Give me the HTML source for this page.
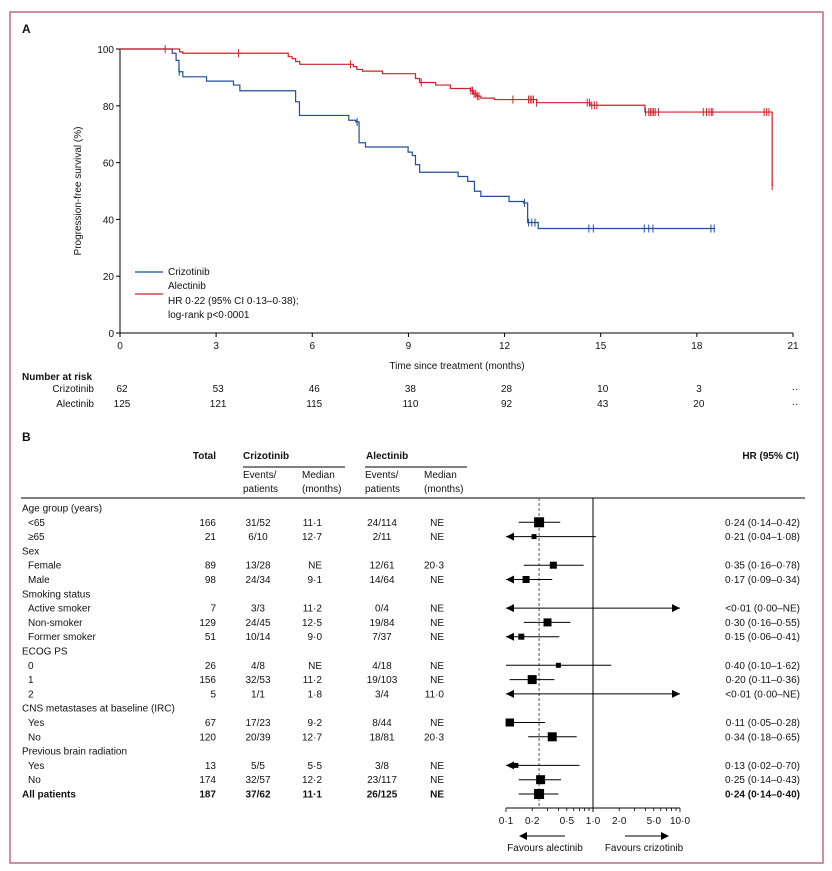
<!DOCTYPE html>
<html><head><meta charset="utf-8">
<style>
html,body{margin:0;padding:0;background:#fff;}
svg{display:block;font-family:"Liberation Sans Narrow","Liberation Sans",sans-serif;}
text{fill:#111;font-size:10px;}
.b{font-weight:bold;}
</style></head>
<body>
<svg id="fig" width="832" height="871" viewBox="0 0 832 871">
<rect x="10" y="12" width="813" height="851" fill="none" stroke="#c06a80" stroke-width="1.5"/>
<text x="22" y="33" class="b" style="font-size:12px">A</text>
<text x="22" y="441" class="b" style="font-size:12px">B</text>
<g id="km"></g>
<g id="tbl"></g>
<g id="forest"></g>
</svg>
<script>
// ---- KM data ----
const kmTicksX = [0,3,6,9,12,15,18,21];
const kmTicksY = [0,20,40,60,80,100];
const crizoTimes = [0,1.63,1.75,1.84,1.96,2.7,3.54,3.74,5.48,5.6,7.14,7.36,7.46,7.66,8.99,9.12,9.22,9.35,10.55,10.85,11.06,11.26,12.14,12.59,12.72,13.05,18.57];
const crizoSurv  = [100,98.5,96,92,90.2,88.7,87.3,85.3,81.4,76.6,74.9,74.3,67,65.5,63.7,62.5,59.3,56.6,55.1,53.4,49.9,48.1,46.3,45.8,38.9,36.8,36.8];
const crizoCens  = [1.85,7.4,12.62,12.75,12.85,12.95,14.63,14.77,16.36,16.5,16.63,18.44,18.54];
const alecTimes = [0,1.86,1.96,5.25,5.37,5.48,5.61,7.28,7.39,7.57,8.19,9.22,9.35,9.85,10.31,10.93,11.02,11.13,11.26,11.68,13.0,14.67,16.38,20.35,20.35];
const alecSurv  = [100,99,98.5,97.3,96.6,95.6,94.6,93.8,92.8,92.2,91.3,89.6,88.2,87.3,86.1,85.3,84.2,83.4,82.7,82.2,81.1,80.2,77.8,51.7,51.7];
const alecCens  = [1.41,3.7,7.19,9.4,10.95,11.0,11.05,11.1,11.15,11.2,12.26,12.75,12.8,12.85,12.9,13.0,14.58,14.65,14.72,14.8,14.88,16.4,16.5,16.55,16.6,16.65,16.7,16.8,18.2,18.3,18.38,18.45,18.5,20.1,20.18,20.25,20.35];
const riskCrizo = ["62","53","46","38","28","10","3","··"];
const riskAlec  = ["125","121","115","110","92","43","20","··"];

// ---- Table / forest data ----
const rowLabels = ["Age group (years)","<65","≥65","Sex","Female","Male","Smoking status","Active smoker","Non-smoker","Former smoker","ECOG PS","0","1","2","CNS metastases at baseline (IRC)","Yes","No","Previous brain radiation","Yes","No","All patients"];
const rowIsHeader = [1,0,0,1,0,0,1,0,0,0,1,0,0,0,1,0,0,1,0,0,0];
const rowTotal = ["","166","21","","89","98","","7","129","51","","26","156","5","","67","120","","13","174","187"];
const rowCrEv = ["","31/52","6/10","","13/28","24/34","","3/3","24/45","10/14","","4/8","32/53","1/1","","17/23","20/39","","5/5","32/57","37/62"];
const rowCrMed = ["","11·1","12·7","","NE","9·1","","11·2","12·5","9·0","","NE","11·2","1·8","","9·2","12·7","","5·5","12·2","11·1"];
const rowAlEv = ["","24/114","2/11","","12/61","14/64","","0/4","19/84","7/37","","4/18","19/103","3/4","","8/44","18/81","","3/8","23/117","26/125"];
const rowAlMed = ["","NE","NE","","20·3","NE","","NE","NE","NE","","NE","NE","11·0","","NE","20·3","","NE","NE","NE"];
const rowHRText = ["","0·24 (0·14–0·42)","0·21 (0·04–1·08)","","0·35 (0·16–0·78)","0·17 (0·09–0·34)","","<0·01 (0·00–NE)","0·30 (0·16–0·55)","0·15 (0·06–0·41)","","0·40 (0·10–1·62)","0·20 (0·11–0·36)","<0·01 (0·00–NE)","","0·11 (0·05–0·28)","0·34 (0·18–0·65)","","0·13 (0·02–0·70)","0·25 (0·14–0·43)","0·24 (0·14–0·40)"];
const hrVal = [null,0.24,0.21,null,0.35,0.17,null,0.001,0.30,0.15,null,0.40,0.20,0.001,null,0.11,0.34,null,0.13,0.25,0.24];
const hrLo  = [null,0.14,0.04,null,0.16,0.09,null,0.0,0.16,0.06,null,0.10,0.11,0.0,null,0.05,0.18,null,0.02,0.14,0.14];
const hrHi  = [null,0.42,1.08,null,0.78,0.34,null,999,0.55,0.41,null,1.62,0.36,999,null,0.28,0.65,null,0.70,0.43,0.40];
const boxSize = [0,10,5,0,7,7,0,0,8,6,0,5,9,0,0,8,9,0,5,9,10];
const forestTicks = [0.1,0.2,0.5,1,2,5,10];
const forestTickLabels = ["0·1","0·2","0·5","1·0","2·0","5·0","10·0"];
const overallHR = 0.24;

const NS="http://www.w3.org/2000/svg";
function mk(parent,tag,attrs,txt){const e=document.createElementNS(NS,tag);for(const k in attrs)e.setAttribute(k,attrs[k]);if(txt!==undefined)e.textContent=txt;parent.appendChild(e);return e;}

// ---- KM axes ----
const km=document.getElementById('km');
const X0=120,X1=793,Y0=333,Y1=49;
const kx=t=>X0+(X1-X0)*t/21;
const ky=s=>Y0-(Y0-Y1)*s/100;
let e;
e=mk(km,'line',{x1:X0,y1:Y1,x2:X0,y2:Y0,stroke:'#000','stroke-width':1});


e=mk(km,'line',{x1:X0,y1:Y0,x2:X1,y2:Y0,stroke:'#000','stroke-width':1});


kmTicksX.forEach(t=>{
  mk(km,'line',{x1:kx(t),y1:Y0,x2:kx(t),y2:Y0+4,stroke:'#000'});
  e=mk(km,'text',{x:kx(t),y:Y0+16,'text-anchor':'middle'},String(t));
  
  
});
kmTicksY.forEach(s=>{
  mk(km,'line',{x1:X0-4,y1:ky(s),x2:X0,y2:ky(s),stroke:'#000'});
  e=mk(km,'text',{x:X0-6,y:ky(s)+4,'text-anchor':'end'},String(s));
  
  
});
e=mk(km,'text',{x:81,y:191,'text-anchor':'middle',transform:'rotate(-90 81 191)'},'Progression-free survival (%)');


e=mk(km,'text',{x:457,y:369,'text-anchor':'middle'},'Time since treatment (months)');



function stepPath(ts,ss){let d='M'+kx(ts[0])+','+ky(ss[0]);for(let i=1;i<ts.length;i++){d+=' H'+kx(ts[i])+' V'+ky(ss[i]);}return d;}
function survAt(ts,ss,t){let s=ss[0];for(let i=0;i<ts.length;i++){if(ts[i]<=t)s=ss[i];}return s;}
e=mk(km,'path',{d:stepPath(crizoTimes,crizoSurv),fill:'none',stroke:'#1f4e9c','stroke-width':1.2});


e=mk(km,'path',{d:stepPath(alecTimes,alecSurv),fill:'none',stroke:'#d0202a','stroke-width':1.2});


crizoCens.forEach(t=>{const s=survAt(crizoTimes,crizoSurv,t);
  e=mk(km,'line',{x1:kx(t),y1:ky(s)-4,x2:kx(t),y2:ky(s)+4,stroke:'#1f4e9c','stroke-width':1});
  
  });
alecCens.forEach(t=>{const s=survAt(alecTimes,alecSurv,t);
  e=mk(km,'line',{x1:kx(t),y1:ky(s)-4,x2:kx(t),y2:ky(s)+4,stroke:'#d0202a','stroke-width':1});
  
  });
// legend
e=mk(km,'line',{x1:135,y1:272,x2:163,y2:272,stroke:'#1f4e9c','stroke-width':1.2});


e=mk(km,'text',{x:168,y:275},'Crizotinib');


e=mk(km,'line',{x1:135,y1:294,x2:163,y2:294,stroke:'#d0202a','stroke-width':1.2});


e=mk(km,'text',{x:168,y:289},'Alectinib');


e=mk(km,'text',{x:168,y:304},'HR 0·22 (95% CI 0·13–0·38);');


e=mk(km,'text',{x:168,y:318},'log-rank p<0·0001');


// number at risk
e=mk(km,'text',{x:22,y:380,class:'b'},'Number at risk');


e=mk(km,'text',{x:94,y:392,'text-anchor':'end'},'Crizotinib');


e=mk(km,'text',{x:94,y:407,'text-anchor':'end'},'Alectinib');


kmTicksX.forEach((t,i)=>{
  e=mk(km,'text',{x:kx(t)+2,y:392,'text-anchor':'middle'},riskCrizo[i]);
  
  
  e=mk(km,'text',{x:kx(t)+2,y:407,'text-anchor':'middle'},riskAlec[i]);
  
  
});

// ---- Table ----
const tb=document.getElementById('tbl');
const hdr=[[216,459,'Total','end',1],[243,459,'Crizotinib','start',1],[366,459,'Alectinib','start',1],[799,459,'HR (95% CI)','end',1],
 [243,478,'Events/','start',0],[243,492,'patients','start',0],[302,478,'Median','start',0],[302,492,'(months)','start',0],
 [365,478,'Events/','start',0],[365,492,'patients','start',0],[424,478,'Median','start',0],[424,492,'(months)','start',0]];
hdr.forEach(h=>{e=mk(tb,'text',{x:h[0],y:h[1],'text-anchor':h[3],class:h[4]?'b':''},h[2]);
  
  });
mk(tb,'line',{x1:243,y1:467,x2:345,y2:467,stroke:'#000'});
mk(tb,'line',{x1:365,y1:467,x2:467,y2:467,stroke:'#000'});
e=mk(tb,'line',{x1:21,y1:498,x2:805,y2:498,stroke:'#000','stroke-width':1});


const rowY=i=>511.5+i*14.3;
rowLabels.forEach((lab,i)=>{
  const y=rowY(i), bold=(i===rowLabels.length-1)?'b':'';
  e=mk(tb,'text',{x:rowIsHeader[i]||bold?22:28,y:y,class:bold},lab);
  
  
  if(rowTotal[i]){
    e=mk(tb,'text',{x:216,y:y,'text-anchor':'end',class:bold},rowTotal[i]);
    
    
    e=mk(tb,'text',{x:258,y:y,'text-anchor':'middle',class:bold},rowCrEv[i]);
    
    
    e=mk(tb,'text',{x:322,y:y,'text-anchor':'end',class:bold},rowCrMed[i]);
    
    
    e=mk(tb,'text',{x:382,y:y,'text-anchor':'middle',class:bold},rowAlEv[i]);
    
    
    e=mk(tb,'text',{x:444,y:y,'text-anchor':'end',class:bold},rowAlMed[i]);
    
    
    e=mk(tb,'text',{x:800,y:y,'text-anchor':'end',class:bold},rowHRText[i]);
    
    
  }
});

// ---- Forest ----
const fo=document.getElementById('forest');
const FX0=506,DEC=87,FYB=808;
const fx=v=>FX0+DEC*Math.log10(v/0.1);
const fmin=fx(0.1), fmax=fx(10);
e=mk(fo,'line',{x1:fx(1),y1:498,x2:fx(1),y2:FYB,stroke:'#000'});


e=mk(fo,'line',{x1:fx(overallHR),y1:498,x2:fx(overallHR),y2:FYB,stroke:'#555','stroke-dasharray':'3,2'});


e=mk(fo,'line',{x1:fmin,y1:FYB,x2:fmax,y2:FYB,stroke:'#000'});


for(let d=0.1;d<10;d*=10){for(let k=1;k<=10;k++){const v=d*k;if(v>10.0001)break;
  mk(fo,'line',{x1:fx(v),y1:FYB,x2:fx(v),y2:FYB+(k===1||k===10?4:3),stroke:'#000','stroke-width':0.8});}}
forestTicks.forEach((v,i)=>{e=mk(fo,'text',{x:fx(v),y:FYB+16,'text-anchor':'middle'},forestTickLabels[i]);
  
  });
function arrowHead(g,x,y,dir){return mk(g,'polygon',{points:`${x},${y} ${x-dir*8},${y-4} ${x-dir*8},${y+4}`,fill:'#000'});}
hrVal.forEach((v,i)=>{
  if(v===null)return;
  const y=rowY(i)-3.5;
  const lo=Math.max(fx(Math.max(hrLo[i],0.0001)),fmin), hi=Math.min(fx(hrHi[i]),fmax);
  e=mk(fo,'line',{x1:lo,y1:y,x2:hi,y2:y,stroke:'#000','stroke-width':1});
  
  
  if(hrLo[i]<0.1){e=arrowHead(fo,fmin,y,-1);
    
    }
  if(hrHi[i]>10){e=arrowHead(fo,fmax,y,1);
    
    }
  if(boxSize[i]>0&&v>=0.1){const s=boxSize[i];
    e=mk(fo,'rect',{x:fx(v)-s/2,y:y-s/2,width:s,height:s,fill:'#000'});
    
    }
});
e=mk(fo,'line',{x1:523,y1:836,x2:565,y2:836,stroke:'#000'});
arrowHead(fo,519,836,-1);
e=mk(fo,'text',{x:545,y:851,'text-anchor':'middle'},'Favours alectinib');


mk(fo,'line',{x1:625,y1:836,x2:665,y2:836,stroke:'#000'});
arrowHead(fo,669,836,1);
e=mk(fo,'text',{x:644,y:851,'text-anchor':'middle'},'Favours crizotinib');


</script>
</body></html>
